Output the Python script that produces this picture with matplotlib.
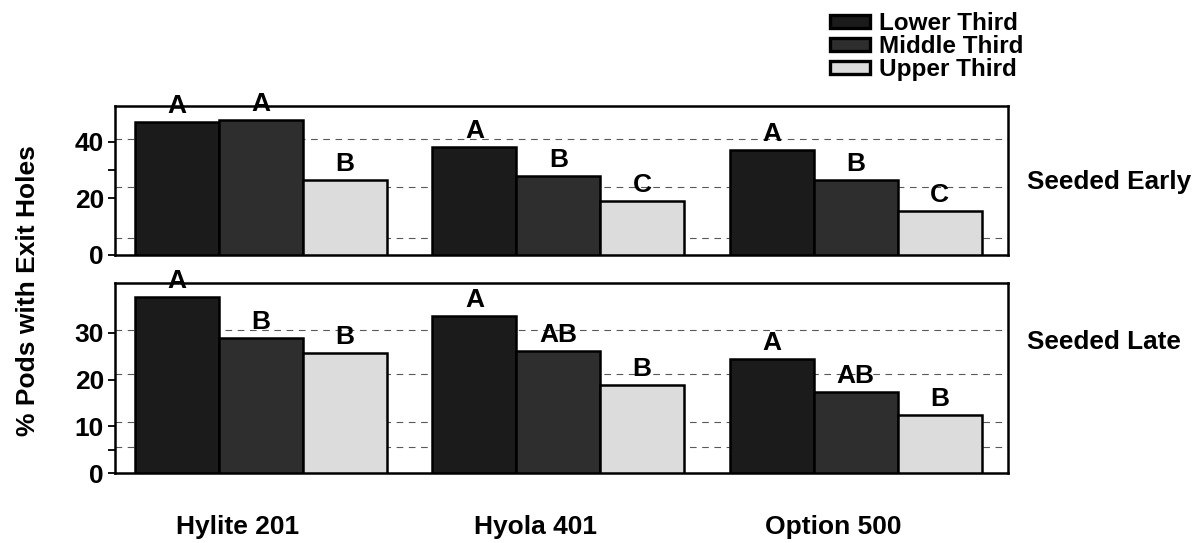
import numpy as np
import matplotlib
matplotlib.use("Agg")
import matplotlib.pyplot as plt
from matplotlib.patches import Patch

plt.rcParams["font.family"] = ["Liberation Sans", "DejaVu Sans"]
plt.rcParams["font.weight"] = "bold"

cultivars = ["Hylite 201", "Hyola 401", "Option 500"]
positions = ["Lower Third", "Middle Third", "Upper Third"]

# % pods with exit holes
early_vals = {
    "Lower Third":  [47.1, 38.2, 37.2],
    "Middle Third": [47.8, 28.0, 26.5],
    "Upper Third":  [26.5, 19.1, 15.6],
}
early_letters = {
    "Lower Third":  ["A", "A", "A"],
    "Middle Third": ["A", "B", "B"],
    "Upper Third":  ["B", "C", "C"],
}
late_vals = {
    "Lower Third":  [37.7, 33.6, 24.4],
    "Middle Third": [28.9, 26.1, 17.4],
    "Upper Third":  [25.7, 18.9, 12.4],
}
late_letters = {
    "Lower Third":  ["A", "A", "A"],
    "Middle Third": ["B", "AB", "AB"],
    "Upper Third":  ["B", "B", "B"],
}

COLORS = {"Lower Third": "#1b1b1b", "Middle Third": "#2e2e2e", "Upper Third": "#dcdcdc"}
W = 0.282


def draw_panel(ax, vals, letters, ylim, yticks, grid, minor, side_label, side_y):
    x = np.arange(len(cultivars))
    for i, pos in enumerate(positions):
        xs = x + (i - 1) * W
        ax.bar(xs, vals[pos], width=W, color=COLORS[pos], edgecolor="black",
               linewidth=1.8, zorder=3)
        for xi, v, lab in zip(xs, vals[pos], letters[pos]):
            ax.annotate(lab, (xi, v), xytext=(0, 3), textcoords="offset points",
                        ha="center", va="bottom", fontsize=19, fontweight="bold",
                        zorder=4, annotation_clip=False)
    for g in grid:
        ax.axhline(g, color="0.35", ls=(0, (6, 5)), lw=0.8, zorder=1)
    ax.set_xlim(-0.49, 2.51)
    ax.set_ylim(*ylim)
    ax.set_yticks(yticks)
    ax.set_yticklabels([str(t) for t in yticks], fontsize=19, fontweight="bold")
    ax.set_yticks(minor, minor=True)
    ax.tick_params(axis="y", which="both", direction="out", length=5, width=1.3, pad=3)
    ax.set_xticks([])
    for s in ax.spines.values():
        s.set_linewidth(1.8)
    ax.text(1.022, side_y, side_label, transform=ax.transAxes, ha="left", va="center",
            fontsize=18.8, fontweight="bold")


fig = plt.figure(figsize=(12.02, 5.43), dpi=100)
ax1 = fig.add_axes([0.0957, 0.5304, 0.7425, 0.2744])
ax2 = fig.add_axes([0.0957, 0.1289, 0.7425, 0.3499])

draw_panel(ax1, early_vals, early_letters, (0, 52.7), [0, 20, 40],
           [41.1, 24.1, 6.0], [30], "Seeded Early", 0.49)
draw_panel(ax2, late_vals, late_letters, (0, 40.7), [0, 10, 20, 30],
           [30.6, 21.2, 10.9, 5.6], [5], "Seeded Late", 0.69)

ax2.set_xticks(np.arange(len(cultivars)) - 0.077)
ax2.set_xticklabels(cultivars, fontsize=19, fontweight="bold")
ax2.tick_params(axis="x", length=0, pad=30)

fig.text(0.023, 0.464, "% Pods with Exit Holes", rotation=90, ha="center",
         va="center", fontsize=19, fontweight="bold")

handles = [Patch(facecolor=COLORS[p], edgecolor="black", linewidth=2.4) for p in positions]
fig.legend(handles, positions, loc="upper left", bbox_to_anchor=(0.680, 1.0),
           frameon=False, handlelength=1.65, handleheight=0.5,
           handletextpad=0.4, labelspacing=0.0, borderaxespad=0.1,
           prop={"weight": "bold", "size": 17.5})

fig.savefig("out.png", dpi=100)
